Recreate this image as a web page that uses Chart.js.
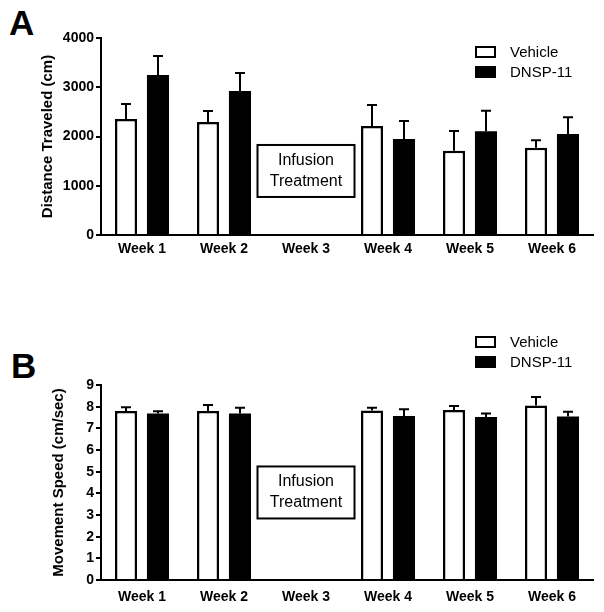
<!DOCTYPE html>
<html><head><meta charset="utf-8">
<script src="https://cdn.jsdelivr.net/npm/chart.js@4"></script>
<style>
body{margin:0;background:#fff;width:604px;height:612px;position:relative;overflow:hidden;font-family:"Liberation Sans",Arial,sans-serif}
.c{position:absolute;left:0;width:604px}
#wa{top:0;height:270px}
#wb{top:300px;height:312px}
.lab{position:absolute;font-weight:bold;font-size:35px;line-height:1;color:#000}
</style></head><body>
<div class="lab" style="left:9px;top:5px">A</div>
<div class="lab" style="left:11px;top:348px">B</div>
<div class="c" id="wa"><canvas id="ca" width="604" height="270"></canvas></div>
<div class="c" id="wb"><canvas id="cb" width="604" height="312"></canvas></div>
<script>
const categories = ['Week 1','Week 2','Week 3','Week 4','Week 5','Week 6'];
const seriesNames = ['Vehicle','DNSP-11'];
const distVehicle    = [2355, 2295, null, 2213, 1712, 1773];
const distVehicleErr = [305, 223, null, 427, 400, 150];
const distDnsp       = [3250, 2924, null, 1950, 2106, 2050];
const distDnspErr    = [385, 366, null, 365, 418, 340];
const speedVehicle    = [7.80, 7.80, null, 7.82, 7.85, 8.05];
const speedVehicleErr = [0.17, 0.28, null, 0.13, 0.18, 0.40];
const speedDnsp       = [7.69, 7.69, null, 7.57, 7.52, 7.55];
const speedDnspErr    = [0.10, 0.26, null, 0.31, 0.17, 0.22];
const distTicks  = [0, 1000, 2000, 3000, 4000];
const speedTicks = [0, 1, 2, 3, 4, 5, 6, 7, 8, 9];
const boxLines = ['Infusion', 'Treatment'];

const FONT = '"Liberation Sans", Arial, sans-serif';

const errorBars = {
  id: 'errorBars',
  afterDatasetsDraw(chart) {
    const ctx = chart.ctx, y = chart.scales.y;
    chart.data.datasets.forEach((ds, di) => {
      const meta = chart.getDatasetMeta(di);
      meta.data.forEach((bar, i) => {
        const v = ds.data[i], e = ds.errors[i];
        if (v == null || e == null) return;
        const top = y.getPixelForValue(v + e);
        const base = y.getPixelForValue(v);
        ctx.save();
        ctx.strokeStyle = '#000';
        ctx.lineWidth = 2;
        ctx.beginPath();
        ctx.moveTo(Math.round(bar.x), base);
        ctx.lineTo(Math.round(bar.x), top);
        ctx.moveTo(Math.round(bar.x) - 5, top);
        ctx.lineTo(Math.round(bar.x) + 5, top);
        ctx.stroke();
        ctx.restore();
      });
    });
  }
};

const infoBox = {
  id: 'infoBox',
  afterDraw(chart, args, opts) {
    const ctx = chart.ctx;
    const cx = chart.scales.x.getPixelForValue(opts.index);
    const cy = chart.scales.y.getPixelForValue(opts.value);
    const w = opts.w, h = opts.h;
    ctx.save();
    ctx.fillStyle = '#fff';
    ctx.fillRect(cx - w / 2, cy - h / 2, w, h);
    ctx.strokeStyle = '#000';
    ctx.lineWidth = 2;
    ctx.strokeRect(cx - w / 2, cy - h / 2, w, h);
    ctx.fillStyle = '#000';
    ctx.font = '16px ' + FONT;
    ctx.textAlign = 'center';
    ctx.textBaseline = 'middle';
    const n = opts.lines.length;
    opts.lines.forEach((t, i) => {
      ctx.fillText(t, cx, cy + (i - (n - 1) / 2) * 21);
    });
    ctx.restore();
  }
};

const myLegend = {
  id: 'myLegend',
  afterDraw(chart, args, opts) {
    const ctx = chart.ctx;
    ctx.save();
    chart.data.datasets.forEach((ds, i) => {
      const y = opts.y + i * opts.gap;
      ctx.fillStyle = ds.backgroundColor;
      ctx.fillRect(opts.x, y, 19, 10);
      ctx.strokeStyle = '#000';
      ctx.lineWidth = 2;
      ctx.strokeRect(opts.x, y, 19, 10);
      ctx.fillStyle = '#000';
      ctx.font = '15px ' + FONT;
      ctx.textAlign = 'left';
      ctx.textBaseline = 'middle';
      ctx.fillText(ds.label, opts.x + 34, y + 5.5);
    });
    ctx.restore();
  }
};

function makeChart(id, vData, vErr, dData, dErr, ticks, title, cfg) {
  return new Chart(document.getElementById(id), {
    type: 'bar',
    data: {
      labels: categories,
      datasets: [
        { label: seriesNames[0], data: vData, errors: vErr, backgroundColor: '#fff', borderColor: '#000', borderWidth: 2.5, borderSkipped: 'bottom' },
        { label: seriesNames[1], data: dData, errors: dErr, backgroundColor: '#000', borderColor: '#000', borderWidth: 0 }
      ]
    },
    options: {
      responsive: false,
      animation: false,
      events: [],
      categoryPercentage: 0.78,
      barPercentage: 0.69,
      layout: { padding: { top: cfg.top, right: 11, left: 0, bottom: 0 } },
      plugins: {
        legend: { display: false },
        tooltip: { enabled: false },
        infoBox: { index: 2, value: cfg.boxValue, w: 97, h: 52, lines: boxLines },
        myLegend: { x: 476, y: cfg.legendY, gap: 20 }
      },
      scales: {
        x: {
          grid: { display: false, drawTicks: false, tickLength: 0 },
          border: { display: true, color: '#000', width: 2 },
          ticks: { color: '#000', font: { family: FONT, size: 14, weight: 'bold' }, padding: cfg.xpad, maxRotation: 0 },
          afterFit: s => { s.height = cfg.xh; }
        },
        y: {
          min: ticks[0], max: ticks[ticks.length - 1],
          afterBuildTicks: s => { s.ticks = ticks.map(v => ({ value: v })); },
          grid: { drawOnChartArea: false, drawTicks: true, tickLength: 5, color: '#000', lineWidth: 2 },
          border: { display: true, color: '#000', width: 2 },
          ticks: { color: '#000', font: { family: FONT, size: 14, weight: 'bold' }, padding: 2, callback: v => String(v) },
          title: { display: true, text: title, color: '#000', font: { family: FONT, size: 15, weight: 'bold' }, padding: { top: cfg.titlePad, bottom: 0 } },
          afterFit: s => { s.width = 101; }
        }
      }
    },
    plugins: [errorBars, infoBox, myLegend]
  });
}

makeChart('ca', distVehicle, distVehicleErr, distDnsp, distDnspErr, distTicks, 'Distance Traveled (cm)',
  { top: 38, xh: 35, xpad: 6, boxValue: 1300, legendY: 47, titlePad: 39 });
makeChart('cb', speedVehicle, speedVehicleErr, speedDnsp, speedDnspErr, speedTicks, 'Movement Speed (cm/sec)',
  { top: 85, xh: 32, xpad: 9, boxValue: 4.04, legendY: 37, titlePad: 50 });
</script>
</body></html>
